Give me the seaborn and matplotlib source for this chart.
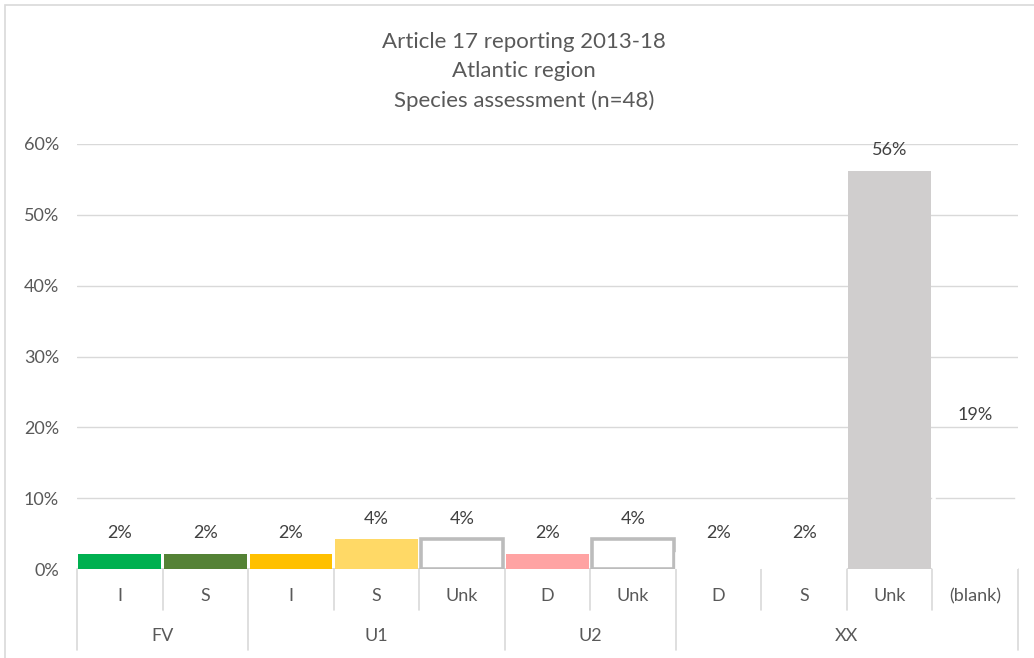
import numpy as np
import pandas as pd
import seaborn as sns
import matplotlib.pyplot as plt
import matplotlib.transforms as mtransforms
from matplotlib.patches import Rectangle

# data (n=48 species)
groups = ['FV', 'FV', 'U1', 'U1', 'U1', 'U2', 'U2', 'XX', 'XX', 'XX', 'XX']
trends = ['I', 'S', 'I', 'S', 'Unk', 'D', 'Unk', 'D', 'S', 'Unk', '(blank)']
counts = [1, 1, 1, 2, 2, 1, 2, 1, 1, 27, 9]
n_species = 48

# bar styles
fill_colors = ['#00B050', '#548235', '#FFC000', '#FFD966', 'none', '#FFA3A3',
               'none', 'none', 'none', '#D0CECE', 'none']
edge_colors = ['none', 'none', 'none', 'none', '#BCBCBC', 'none',
               '#BCBCBC', 'white', 'white', 'none', 'white']

df = pd.DataFrame({'group': groups, 'trend': trends,
                   'pct': np.array(counts) / n_species * 100})
df['key'] = df['group'] + ' ' + df['trend']

sns.set_style('white')
plt.rcParams['font.family'] = ['Lato', 'DejaVu Sans']
text_col = '#595959'
label_col = '#404040'
grid_col = '#D9D9D9'

fig = plt.figure(figsize=(10.34, 6.58), dpi=100)
ax = fig.add_axes([77 / 1034, 1 - 569 / 658, 941 / 1034, 425 / 658])

pal = {k: '#FFFFFF' for k in df['key']}
sns.barplot(data=df, x='key', y='pct', hue='key', palette=pal, dodge=False,
            width=0.965, legend=False, saturation=1, ax=ax, zorder=3)

bars = sorted(ax.patches, key=lambda p: p.get_x())
for i, p in enumerate(bars):
    p.set_facecolor(fill_colors[i])
    p.set_edgecolor(edge_colors[i])
    p.set_linewidth(0 if edge_colors[i] == 'none' else 2.6)

# value labels
for i, v in enumerate(df['pct']):
    ax.annotate(f"{v:.0f}%", (i, v), xytext=(0, 15), textcoords='offset points',
                ha='center', va='center', fontsize=13, color=label_col, zorder=5)

ax.set_xlim(-0.5, 10.5)
ax.set_ylim(0, 60)
ax.set_yticks(range(0, 61, 10))
ax.set_yticklabels([f"{t}%" for t in range(0, 61, 10)], fontsize=13, color=text_col)
ax.tick_params(axis='y', length=0, pad=13)
ax.set_xticks([])
ax.set_xlabel('')
ax.set_ylabel('')
ax.yaxis.grid(True, color=grid_col, lw=1, zorder=0)
ax.set_axisbelow(True)
for s in ax.spines.values():
    s.set_visible(False)
ax.axhline(0, color=grid_col, lw=1.2, zorder=2)

# two-level category axis
trans = mtransforms.blended_transform_factory(ax.transData, ax.transAxes)
for i, t in enumerate(trends):
    ax.text(i, -0.0635, t, transform=trans, ha='center', va='center',
            fontsize=13, color=text_col, clip_on=False)

group_edges = [-0.5]
for i in range(1, len(groups)):
    if groups[i] != groups[i - 1]:
        group_edges.append(i - 0.5)
group_edges.append(len(groups) - 0.5)

for i in range(len(groups) + 1):
    x = i - 0.5
    y_end = -0.19 if x in group_edges else -0.0965
    ax.plot([x, x], [0, y_end], transform=trans, color=grid_col, lw=1.2,
            clip_on=False)

for a, b in zip(group_edges[:-1], group_edges[1:]):
    name = groups[int(a + 0.5)]
    ax.text((a + b) / 2, -0.1576, name, transform=trans, ha='center',
            va='center', fontsize=13, color=text_col, clip_on=False)

# title
title_lines = ["Article 17 reporting 2013-18", "Atlantic region",
               "Species assessment (n=48)"]
for line, ypx in zip(title_lines, [42, 71, 101]):
    fig.text(524 / 1034, 1 - ypx / 658, line, ha='center', va='center',
             fontsize=16, color=text_col)

# chart area border
fig.patches.append(Rectangle((5 / 1034, -0.1), 1.2, 1.1 - 5 / 658,
                             transform=fig.transFigure, fill=False,
                             edgecolor=grid_col, lw=1.2))

fig.savefig('out.png', dpi=100, facecolor='white')
